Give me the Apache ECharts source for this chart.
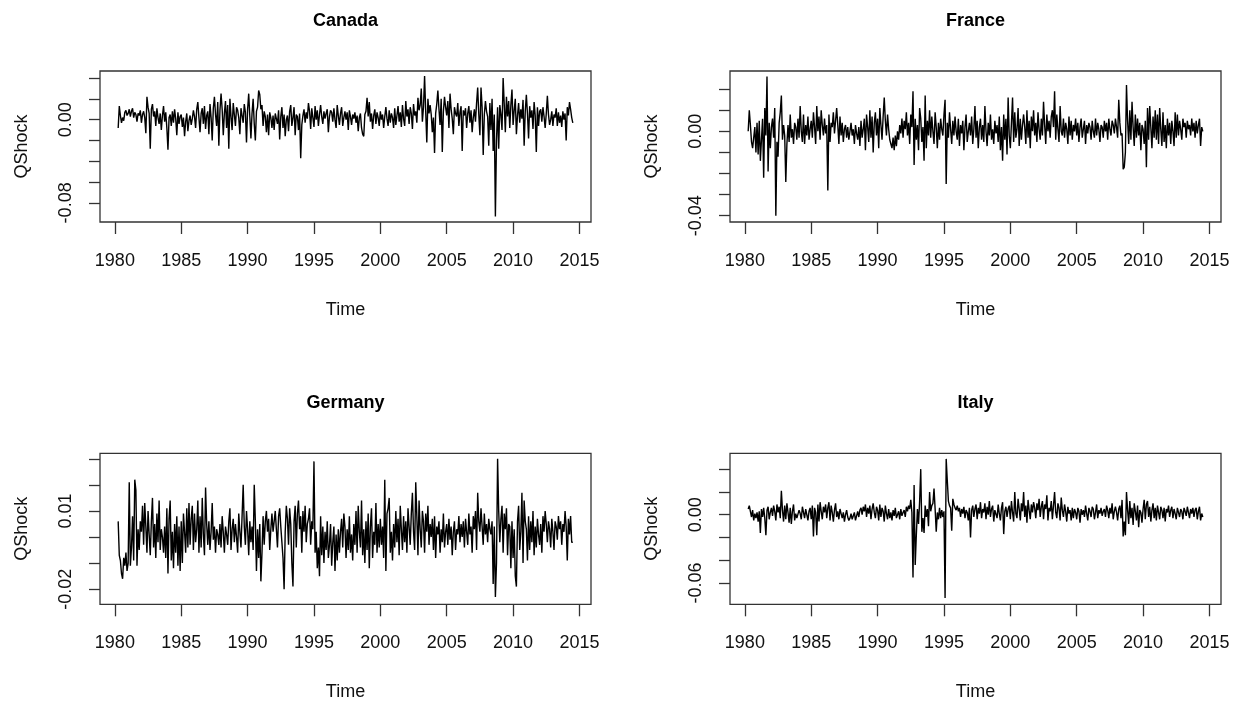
<!DOCTYPE html>
<html><head><meta charset="utf-8">
<script src="https://cdn.jsdelivr.net/npm/echarts@6/dist/echarts.min.js"></script>
<style>html,body{margin:0;padding:0;background:#fff}#c{width:1236px;height:704px}</style>
</head><body><div id="c"></div>
<script>
// Monthly series, April 1980 .. July 2014 (values in units of 0.001)
const START_TIME = 1980 + 3 / 12;
const FREQUENCY = 12;
const xTickYears = [1980, 1985, 1990, 1995, 2000, 2005, 2010, 2015];

const canadaPermille = [
 -8, 13, 4, -3, 2, -1, 7, 9, 4,
 6, 10, 3, 8, 11, 2, 7, 5, -2, 6, 4, 9,
 -3, 5, 8, 2, -13, 22, 12, 6, -28, 10, 15, 3,
 8, -6, 11, 2, -4, 6, -10, 4, 13, -2, 7, -8,
 -29, 2, 5, -6, 8, -3, 10, 1, -15, 7, -4, 3,
 5, -7, 2, -16, -2, 6, -11, -1, 4, -5, 1, 9,
 3, -8, 10, 17, 2, -12, 6, 11, -4, 13, -9, 4,
 8, -14, 15, 2, -20, 11, 22, 5, -6, 17, -25, 9,
 25, 10, -15, 6, 18, -8, 14, -28, 20, 3, -10, 16,
 5, -6, 12, 9, 2, -14, 11, 4, -3, 15, 7, -22,
 10, 25, 3, -18, 6, 20, -4, -20, 8, 12, 28, 24,
 10, 14, -6, 8, 3, -12, 5, -15, 7, 2, -8, 4,
 -10, 6, 1, -4, 9, -19, 3, 12, -8, 5, -16, 0,
 4, -11, 8, 14, -6, 2, 12, -15, 5, 3, -10, 6,
 -37, -5, 4, 10, -3, 7, 1, 16, 8, -9, 11, 2,
 -7, 13, 0, 9, -6, 5, 14, 3, -4, 8, 1, 6,
 10, -12, 3, 9, 7, -2, 11, 0, -8, 14, 4, -5,
 6, 12, -6, 2, 8, 0, 7, -10, 9, 3, -5, 5,
 1, 7, -3, 4, -11, 2, 6, -8, -14, -16, 5, 8,
 21, 3, 17, -2, 6, -9, 4, 10, -4, 7, 2, -6,
 8, 0, 5, -8, 3, 12, 1, -6, 9, -3, 6, 2,
 -8, 11, -5, 4, 13, -2, 7, -7, 14, 1, -6, 18,
 3, 10, -4, 12, 6, -9, 15, 4, 8, -3, 21, 9,
 14, 30, -2, 12, 42, 8, -22, 20, 6, 14, 5, -12,
 2, -32, 6, 15, 28, 10, -5, 20, -31, 8, 22, 12,
 4, 18, -8, 25, 10, 1, -14, 12, 6, 3, 16, -6,
 7, 13, -30, 9, 4, 11, -8, 6, 13, -3, 9, -12,
 2, 10, -2, 16, 31, 5, -15, 31, 12, -34, 5, 18,
 8, 3, -25, 16, -10, 20, -30, 5, -93, -20, 12, -28,
 14, 5, -10, 40, 15, -12, 22, 3, 18, -8, 14, 29,
 -5, 9, 20, -14, 4, 16, -3, 10, 1, 19, -25, 8,
 24, 6, -18, 13, 2, 9, -9, 17, 4, -31, 12, -6,
 8, 10, -2, 12, 3, -8, 6, 23, 5, -5, 0, 8,
 -6, 5, 2, 11, -6, 7, -3, 4, -7, 8, 0, 6,
 -20, 12, 4, 17, 10, 2, -3
];

const francePermille = [
 0, 10, 3, -5, -8, -3, 2, -10, 4,
 -11, 5, -14, -4, 6, -22, 11, -2, 26, -19, 4, -8,
 2, 6, -3, 11, -40, -5, -12, 4, 9, 17, -4, 3,
 -2, -24, -6, 3, -5, 8, -3, 1, -6, 4, 2, -4,
 6, -3, 12, 0, -5, 8, -6, 3, -2, 7, -4, 1,
 5, -3, 9, 2, -6, 12, 0, 7, -4, 10, 3, -2,
 6, -1, 3, -28, 8, -5, 4, 2, 9, -1, 5, 11,
 3, -6, 7, -2, 4, -5, 1, 3, -3, 2, -4, 0,
 4, -2, 1, -6, 3, -1, -4, 2, -7, 5, -3, 1,
 6, -9, 8, 2, -5, 10, -3, 7, -10, 4, 9, -2,
 6, -8, 11, 3, -4, 7, 16, 5, -2, 8, 1, -4,
 -6, -8, -3, -9, -2, -7, 0, -4, 3, -1, 6, -3,
 5, 1, 9, -2, 4, -6, 8, 2, 19, -16, 6, -4,
 3, -9, 11, 6, -5, 2, -14, 17, -8, 5, -2, 10,
 -3, 7, 0, -6, 9, 2, -8, 4, -4, 6, 1, -2,
 8, 15, -25, 4, -3, 9, 1, -6, 5, -2, 7, 0,
 -4, 6, -7, 3, -1, 5, -9, 2, 8, -5, 0, 4,
 -2, 7, -6, 1, 12, -3, 5, -8, 2, 6, -4, 3,
 -5, 12, 0, -7, 4, -2, 8, -4, 1, -6, 5, -1,
 3, -5, 7, -9, 2, -14, 8, -4, 6, -11, 16, -2,
 -8, 4, 16, -5, 9, -3, 1, 11, -7, 6, -4, 3,
 8, 2, -6, 10, -3, 5, -8, 7, 0, 10, -2, 4,
 -5, 9, 1, -4, 6, -2, 14, 3, -6, 8, 0, 5,
 -3, 7, 10, 2, 19, -4, 8, 1, -5, 12, 0, -2,
 6, -3, 4, 1, -6, 7, -2, 5, -4, 3, 0, 6,
 -2, 4, -5, 2, 6, -3, 1, 5, -6, 3, -1, 4,
 2, -4, 5, 0, -3, 6, -2, 4, 1, -5, 3, 2,
 -3, 5, 0, 4, -4, 6, 1, -2, 5, 3, -1, 6,
 2, -3, 15, 4, -2, -1, -18, -17, -10, 22, 5, -6,
 10, -4, 14, 2, -7, 8, -3, 6, -2, 4, -9, 3,
 1, -6, 5, -17, 11, -4, 12, 2, -8, 7, -3, 10,
 -4, 8, -6, 11, 1, -7, 9, -5, 3, -8, 6, -2,
 4, -6, 5, 0, -7, 9, -3, 8, -2, 5, 1, -4,
 6, 2, 4, -3, 5, 1, 3, -2, 6, 0, 4, -3,
 5, -1, 3, 6, -7, 2, 0
];

const germanyPermille = [
 6, -7, -9, -14, -16, -8, -11, -6, -13,
 -10, 21, -11, -4, 8, -9, 22, 18, -11, 3, -5, 6,
 2, 12, -3, 13, 4, -6, 10, 1, -7, 6, 15, -4,
 5, -8, 9, -2, 14, -5, 3, 0, -6, 4, -8, 11,
 -14, 7, 14, -9, 2, -12, 5, -6, 8, -11, 4, -13,
 6, -10, 9, 2, -6, 11, -4, 13, -3, 7, 12, -5,
 9, -2, 3, 14, -6, 8, -4, 15, 1, -7, 19, 5,
 -3, 6, -5, 2, 13, -1, 4, -6, 3, 1, -3, 5,
 -4, 8, 2, -6, 4, 1, -3, 6, 11, -5, 3, 7,
 -2, 5, 0, -6, 9, 2, -4, 8, 20, 4, -3, 10,
 3, -7, 6, -2, 4, -5, 20, 6, -13, 3, -8, 5,
 -17, -6, 8, -3, 6, 10, 2, 7, -5, 3, 9, 2,
 6, 10, 3, -4, 8, 11, 4, -2, -8, -20, 2, 12,
 7, -3, 11, 5, -10, -19, 6, 12, -4, 9, 14, 3,
 8, -6, 10, 2, 12, -2, 5, 7, 11, -3, 6, 3,
 29, -6, 2, -12, -4, -15, 8, -7, 4, -10, 2, -5,
 6, -8, -3, 5, -11, -2, 4, -13, 1, -9, 3, -6,
 2, 7, -4, 9, 4, -8, 3, -5, 8, -6, 1, -9,
 5, -3, 10, -6, 12, 2, -4, 14, -7, 3, -10, 6,
 -5, 9, -12, 4, 11, -8, 2, -3, 13, -6, 5, -4,
 7, -3, 4, -8, 22, -13, 9, 11, 15, -6, 2, -9,
 5, -4, 10, -2, 7, -7, 12, 3, -5, 8, -2, 6,
 -6, 11, 4, -3, 9, 17, 2, -5, 21, 8, -7, 14,
 3, -4, 10, 6, -6, 9, 2, 12, -3, 5, 0, 7,
 -5, 8, -8, 4, 1, 6, -6, 3, -2, 9, -4, 2,
 5, -3, 7, -1, 4, -7, 2, 6, -5, 3, 1, 8,
 -2, 5, 0, 6, -4, 7, 2, -3, 9, 1, 4, -6,
 8, 3, 10, -5, 17, 6, 2, 11, 4, -3, 9, 1,
 5, -2, 7, 3, 1, 6, -18, 4, -23, -10, 30, 10,
 -2, 7, 12, -6, 9, 3, 11, -7, 5, 4, -12, 6,
 -8, 3, -15, -19, 6, 12, -5, 2, 17, -10, 14, 6,
 3, -9, 8, -5, 6, -2, 10, -7, 4, -4, 7, 1,
 -3, 5, -6, 8, 2, 10, 5, -2, 6, 3, -4, 7,
 2, -5, 6, 4, -1, 8, 3, 6, -3, 5, 2, 10,
 4, -9, 7, 1, 8, -2, -2
];

const italyPermille = [
 5, 8, 3, -2, 4, -5, 1, -3, 2,
 -6, 3, -16, 5, -2, 6, -3, -18, 4, 7, -4, 2,
 6, -1, 8, 3, -5, 9, 2, 7, -3, 21, 4, -6,
 8, -4, 10, 2, -7, 6, -8, 3, 9, -5, 1, -3,
 -2, 4, 1, -4, 7, 2, -3, 5, 0, -5, 3, 6,
 -4, 8, -19, 6, 2, -18, 9, -6, 11, 3, -4, 7,
 2, 9, -3, 6, 11, -5, 8, 2, -6, 4, 10, -2,
 3, -4, 5, 1, -3, 2, -6, 0, 4, -2, -5, -3,
 1, -4, -3, 2, -5, -1, 3, -2, 4, 6, 0, 7,
 3, 9, -2, 6, 1, 8, -4, 5, 10, 2, -3, 7,
 4, -5, 9, -2, 6, 3, -6, 8, 1, -4, 5, -3,
 2, -5, 4, -1, 6, -3, -2, 3, -4, 5, -1, 2,
 4, -2, 7, 3, 8, 5, 13, 2, -55, 26, -44, -18,
 5, -8, 12, 40, -15, -3, -16, 8, -2, 5, -10, 20,
 3, 8, 10, 23, 5, -15, 2, -4, 6, -3, 4, -2,
 3, -73, 49, 30, 12, 8, 6, -14, 14, 9, 6, 4,
 8, 3, 6, -2, 5, 1, 7, -3, 4, 2, -5, 6,
 -20, 4, 8, -2, 5, 9, -4, 6, 1, 11, -3, 5,
 2, 10, -4, 7, 0, 12, -2, 5, 8, -6, 4, 3,
 -3, 9, 1, -5, 6, 11, -17, 3, 7, -2, 5, 8,
 -4, 12, 2, -6, 20, 1, -3, 14, 5, -5, 10, 3,
 20, -2, 8, -7, 13, 4, -4, 9, 2, 11, 6, -3,
 10, 4, 14, -2, 7, 12, -4, 9, 5, 17, -5, 6,
 3, 12, -4, 8, 20, 2, -3, 10, 6, -5, 15, 4,
 -2, 9, 3, -6, 7, 1, 4, -5, 6, -3, 5, 2,
 -4, 6, 3, -7, 5, 0, 4, -2, 8, 1, -5, 6,
 3, -2, 7, 5, -4, 2, 9, -3, 4, 1, 6, -1,
 3, 5, -2, 8, 4, -3, 6, 1, 10, -4, 3, 7,
 2, -5, 5, 8, -3, 13, -19, -6, -18, 20, 4, -8,
 12, -3, 6, -9, 10, 3, -5, 8, -11, 4, 2, -7,
 5, 13, -4, 9, 12, -2, 7, -6, 4, 10, -3, 6,
 -5, 8, 2, -4, 7, 4, -3, 6, -6, 5, 2, 8,
 -2, 4, 7, -3, 5, 1, -4, 6, 2, -2, 5, 3,
 -4, 6, 3, -1, 7, 2, -3, 5, 1, 6, -2, 4,
 6, -4, 3, 7, -5, 1, -2
];

// y-axis ranges, tick positions and labelled ticks
const yRangeCanada = [-0.0984, 0.0468];
const yTicksCanada = [-0.08, -0.06, -0.04, -0.02, 0, 0.02, 0.04];
const yLabelsCanada = [-0.08, 0];
const yRangeFrance = [-0.0430, 0.0286];
const yTicksFrance = [-0.04, -0.03, -0.02, -0.01, 0, 0.01, 0.02];
const yLabelsFrance = [-0.04, 0];
const yRangeGermany = [-0.0258, 0.0321];
const yTicksGermany = [-0.02, -0.01, 0, 0.01, 0.02, 0.03];
const yLabelsGermany = [-0.02, 0.01];
const yRangeItaly = [-0.0786, 0.0539];
const yTicksItaly = [-0.06, -0.04, -0.02, 0, 0.02, 0.04];
const yLabelsItaly = [-0.06, 0];

const FONT = '"Liberation Sans", Arial, Helvetica, sans-serif';
const BOX_W = 491, BOX_H = 151;
const panels = [
  {name: 'Canada',  vals: canadaPermille,  yr: yRangeCanada,  ticks: yTicksCanada,  labels: yLabelsCanada,  left: 100, top: 71},
  {name: 'France',  vals: francePermille,  yr: yRangeFrance,  ticks: yTicksFrance,  labels: yLabelsFrance,  left: 730, top: 71},
  {name: 'Germany', vals: germanyPermille, yr: yRangeGermany, ticks: yTicksGermany, labels: yLabelsGermany, left: 100, top: 453.3},
  {name: 'Italy',   vals: italyPermille,   yr: yRangeItaly,   ticks: yTicksItaly,   labels: yLabelsItaly,   left: 730, top: 453.3}
];

function fmt(v) { const s = (+v).toFixed(2); return s === '-0.00' ? '0.00' : s; }

const grids = [], xAxes = [], yAxes = [], series = [], graphics = [];
panels.forEach((p, i) => {
  const data = p.vals.map((v, k) => [START_TIME + k / FREQUENCY, v / 1000]);
  const t0 = data[0][0], t1 = data[data.length - 1][0];
  const pad = (t1 - t0) * 0.04;
  grids.push({left: p.left, top: p.top, width: BOX_W, height: BOX_H, show: true,
    borderColor: '#333', borderWidth: 1.3, backgroundColor: 'transparent', containLabel: false});
  xAxes.push({type: 'value', gridIndex: i, position: 'bottom', min: t0 - pad, max: t1 + pad,
    axisLine: {show: false, onZero: false}, splitLine: {show: false},
    axisTick: {show: true, length: 12, customValues: xTickYears, lineStyle: {color: '#333', width: 1.3}},
    axisLabel: {customValues: xTickYears, margin: 30, fontSize: 18, fontFamily: FONT, color: '#111',
      formatter: v => String(Math.round(v))}});
  yAxes.push({type: 'value', gridIndex: i, position: 'left', min: p.yr[0], max: p.yr[1],
    axisLine: {show: false, onZero: false}, splitLine: {show: false},
    axisTick: {show: true, length: 11, customValues: p.ticks, lineStyle: {color: '#333', width: 1.3}},
    axisLabel: {customValues: p.labels, rotate: 90, margin: 25, fontSize: 18, fontFamily: FONT, color: '#111',
      formatter: fmt}});
  series.push({type: 'line', xAxisIndex: i, yAxisIndex: i, data: data, symbol: 'none', showSymbol: false,
    silent: true, lineStyle: {color: '#000', width: 1.4}});
  const cx = p.left + BOX_W / 2;
  graphics.push({type: 'text', x: cx, y: p.top - 50,
    style: {text: p.name, font: 'bold 18px ' + FONT, fill: '#000', align: 'center', verticalAlign: 'middle',
      textAlign: 'center', textVerticalAlign: 'middle'}});
  graphics.push({type: 'text', x: cx, y: p.top + 239,
    style: {text: 'Time', font: '18px ' + FONT, fill: '#111', align: 'center', verticalAlign: 'middle',
      textAlign: 'center', textVerticalAlign: 'middle'}});
  graphics.push({type: 'text', x: p.left - 78.3, y: p.top + BOX_H / 2, rotation: Math.PI / 2,
    style: {text: 'QShock', font: '18px ' + FONT, fill: '#111', align: 'center', verticalAlign: 'middle',
      textAlign: 'center', textVerticalAlign: 'middle'}});
});

const chart = echarts.init(document.getElementById('c'), null, {renderer: 'canvas'});
chart.setOption({
  animation: false,
  backgroundColor: '#fff',
  grid: grids, xAxis: xAxes, yAxis: yAxes, series: series, graphic: graphics
});
</script>
</body></html>
